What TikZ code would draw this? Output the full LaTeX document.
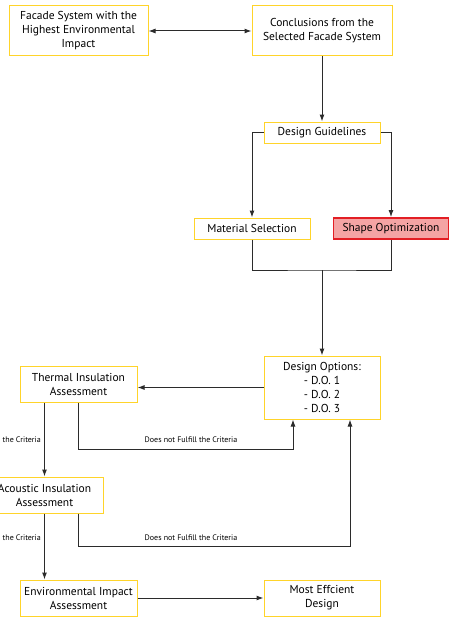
\documentclass[tikz,border=0pt]{standalone}
\usepackage{fontspec}
\setmainfont{PT Sans}
\usetikzlibrary{arrows.meta}

\definecolor{boxyellow}{HTML}{FFD42A}
\definecolor{optred}{HTML}{E31E24}
\definecolor{optfill}{HTML}{F4A4A4}
\definecolor{linegray}{HTML}{2B2B2B}

\tikzset{
    box/.style={draw=boxyellow, line width=1pt, fill=white, align=center,
        inner sep=0pt, minimum width=116pt, minimum height=21pt,
        font=\fontsize{11.5}{14}\selectfont, text=black},
    hilite/.style={box, draw=optred, line width=1.8pt, fill=optfill},
    flow/.style={draw=linegray, line width=1pt},
    arr/.style={flow, -{Latex[length=7pt,width=5pt]}},
    note/.style={font=\fontsize{8}{9}\selectfont, text=black, inner sep=0pt}
}

\begin{document}
\begin{tikzpicture}[x=1pt,y=-1pt]
    \clip (0,0) rectangle (451,618);
    \fill[white] (0,0) rectangle (451,618);

    % top row
    \node[box, minimum width=139pt, minimum height=50pt] (facade) at (78.5,31)
        {Facade System with the\\Highest Environmental\\Impact};
    \node[box, minimum width=140pt, minimum height=50pt] (concl) at (322,31)
        {Conclusions from the\\Selected Facade System};
    \node[box] (guide) at (322,132.5) {Design Guidelines};

    % the two branches
    \node[box] (material) at (252,228.5) {Material Selection};
    \node[hilite, minimum width=115pt] (shape) at (391,228.5) {Shape Optimization};
    \coordinate (join) at (322,270);

    \node[box, minimum height=63pt] (options) at (322,387.5)
        {Design Options:\\- D.O. 1\\- D.O. 2\\- D.O. 3};

    % assessments
    \node[box, minimum width=117pt, minimum height=36pt] (thermal) at (78.5,384)
        {Thermal Insulation\\Assessment};
    \node[box, minimum width=117pt, minimum height=36pt] (acoustic) at (44.5,495)
        {Acoustic Insulation\\Assessment};
    \node[box, minimum width=117pt, minimum height=36pt] (env) at (78.5,598)
        {Environmental Impact\\Assessment};
    \node[box, minimum height=36pt] (best) at (322,598) {Most Effcient\\Design};

    \coordinate (fail1) at (293,449);
    \coordinate (fail2) at (350,546);

    % connectors
    \draw[flow, {Latex[length=7pt,width=5pt]}-{Latex[length=7pt,width=5pt]}] (facade) -- (concl);
    \draw[arr] (concl) -- (guide);
    \draw[arr] (guide.west) -| (material.north);
    \draw[arr] (guide.east) -| (shape.north);
    \draw[flow] (material.south) |- (join) -| (shape.south);
    \draw[arr] (join) -- (options.north);
    \draw[arr] (options.west) -- (options.west -| thermal.east);

    \draw[arr] (thermal.south -| acoustic.north) -- (acoustic.north);
    \draw[arr] (thermal.south) |- (fail1) -- (fail1 |- options.south);
    \draw[arr] (acoustic.south) -- (acoustic.south |- env.north);
    \draw[arr] (acoustic.south -| thermal.south) |- (fail2) -- (fail2 |- options.south);
    \draw[arr] (env) -- (best);

    % criteria labels
    \node[note] (fail1 label) at (191,440) {Does not Fulfill the Criteria};
    \node[note] (fail2 label) at (191,538) {Does not Fulfill the Criteria};
    \node[note, anchor=east] (pass1 label) at (41,440) {the Criteria};
    \node[note, anchor=east] (pass2 label) at (41,538) {the Criteria};
\end{tikzpicture}
\end{document}
